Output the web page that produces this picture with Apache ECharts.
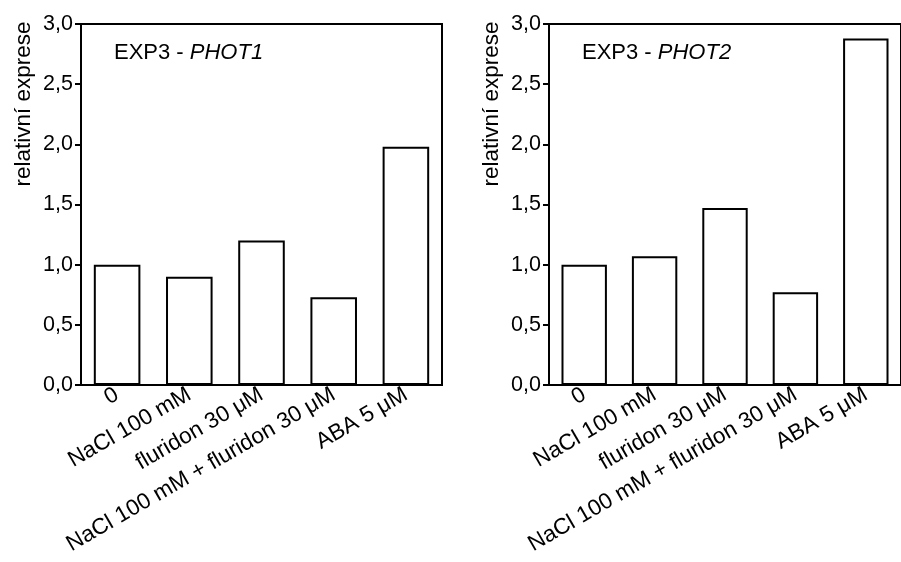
<!DOCTYPE html>
<html>
<head>
<meta charset="utf-8">
<script src="https://cdn.jsdelivr.net/npm/echarts@6/dist/echarts.min.js"></script>
<style>
html,body{margin:0;padding:0;background:#fff;}
#chart{width:901px;height:562px;}
</style>
</head>
<body>
<div id="chart"></div>
<script>
// ---- data ----
var categories = ['0', 'NaCl 100 mM', 'fluridon 30 \u03bcM', 'NaCl 100 mM + fluridon 30 \u03bcM', 'ABA 5 \u03bcM'];
var phot1Values = [1.00, 0.90, 1.20, 0.73, 1.98];
var phot2Values = [1.00, 1.07, 1.47, 0.77, 2.88];
var panelGenes = ['PHOT1', 'PHOT2'];
var yAxisTitle = 'relativn\u00ed exprese';
var yMin = 0, yMax = 3, yStep = 0.5;

var FONT = 'Arial, "Liberation Sans", sans-serif';

var chart = echarts.init(document.getElementById('chart'), null, {renderer: 'canvas'});

var grids = [
  {left: 81, top: 24, width: 361, height: 361},
  {left: 549, top: 24, width: 361, height: 361}
];

function makeGrid(g) {
  return Object.assign({show: true, borderColor: '#000', borderWidth: 2, backgroundColor: 'transparent', containLabel: false}, g);
}

function xAxis(i) {
  return {
    type: 'category', gridIndex: i, data: categories,
    axisLine: {show: true, lineStyle: {color: '#000', width: 2}},
    axisTick: {show: false},
    axisLabel: {rotate: 30, margin: 8, color: '#000', fontSize: 22.5, fontFamily: FONT, interval: 0}
  };
}
function yAxis(i) {
  return {
    type: 'value', gridIndex: i, min: yMin, max: yMax, interval: yStep,
    splitLine: {show: false},
    axisLine: {show: true, lineStyle: {color: '#000', width: 2}},
    axisTick: {show: true, inside: false, length: 6, lineStyle: {color: '#000', width: 2}},
    axisLabel: {margin: 8, color: '#000', fontSize: 21.5, fontFamily: FONT,
      formatter: function (v) { return v.toFixed(1).replace('.', ','); }}
  };
}
function series(i, data) {
  return {
    type: 'bar', xAxisIndex: i, yAxisIndex: i, data: data, barWidth: '64.5%',
    itemStyle: {color: '#fff', borderColor: '#000', borderWidth: 2},
    silent: true, animation: false
  };
}
function panelTitle(i, gene, left) {
  return {
    text: '{n|EXP3 - }{i|' + gene + '}', left: left, top: 37,
    textStyle: {
      fontWeight: 'normal',
      rich: {
        n: {fontSize: 22, fontFamily: FONT, color: '#000', fontWeight: 'normal'},
        i: {fontSize: 22, fontFamily: FONT, color: '#000', fontWeight: 'normal', fontStyle: 'italic'}
      }
    }
  };
}
function yName(x) {
  return {
    type: 'text', x: x, y: 104, rotation: Math.PI / 2,
    style: {text: yAxisTitle, fontSize: 22.5, fontFamily: FONT, fill: '#000',
      textAlign: 'center', textVerticalAlign: 'middle', align: 'center', verticalAlign: 'middle'}
  };
}

chart.setOption({
  animation: false,
  backgroundColor: '#fff',
  title: [panelTitle(0, panelGenes[0], 109), panelTitle(1, panelGenes[1], 577)],
  grid: grids.map(makeGrid),
  xAxis: [xAxis(0), xAxis(1)],
  yAxis: [yAxis(0), yAxis(1)],
  series: [series(0, phot1Values), series(1, phot2Values)],
  graphic: [yName(24), yName(492)]
});
</script>
</body>
</html>
